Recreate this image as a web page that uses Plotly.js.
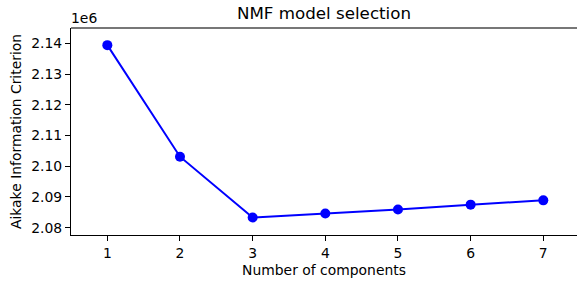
<!DOCTYPE html>
<html>
<head>
<meta charset="utf-8">
<script src="https://cdn.plot.ly/plotly-3.0.1.min.js"></script>
<style>html,body{margin:0;padding:0;background:#fff;}</style>
</head>
<body>
<div id="chart" style="width:578px;height:282px;"></div>
<script>
const components = [1, 2, 3, 4, 5, 6, 7];
const aicValues = [2139400, 2103100, 2083300, 2084600, 2085900, 2087500, 2088900];
const yTickVals = [2080000, 2090000, 2100000, 2110000, 2120000, 2130000, 2140000];
const yTickText = ['2.08', '2.09', '2.10', '2.11', '2.12', '2.13', '2.14'];
const xTickVals = [1, 2, 3, 4, 5, 6, 7];

const font = 'DejaVu Sans, sans-serif';
const trace = {
  x: components, y: aicValues, type: 'scatter', mode: 'lines+markers',
  line: {color: '#0000ff', width: 2},
  marker: {color: '#0000ff', size: 10}
};
const layout = {
  width: 578, height: 282,
  margin: {l: 71, r: 1, t: 28, b: 47},
  paper_bgcolor: '#fff', plot_bgcolor: '#fff',
  showlegend: false,
  font: {family: font, color: '#000', size: 13.9},
  title: {text: 'NMF model selection', font: {family: font, size: 16.7, color: '#000'},
          x: 0.5, xref: 'paper', y: 1 - 13/282, yref: 'container', yanchor: 'middle'},
  xaxis: {
    range: [0.5, 7.464], tickvals: xTickVals, ticktext: xTickVals.map(String),
    showgrid: false, zeroline: false, showline: true, linecolor: '#000', linewidth: 1,
    ticks: 'outside', ticklen: 5, tickwidth: 1, tickcolor: '#000',
    tickfont: {family: font, size: 13.9, color: '#000'},
    title: {text: 'Number of components', font: {family: font, size: 13.9, color: '#000'}, standoff: 5}
  },
  yaxis: {
    range: [2077620, 2144980], tickvals: yTickVals, ticktext: yTickText,
    showgrid: false, zeroline: false, showline: true, linecolor: '#000', linewidth: 1,
    ticks: 'outside', ticklen: 5, tickwidth: 1, tickcolor: '#000',
    tickfont: {family: font, size: 13.9, color: '#000'},
    title: {text: 'Aikake Information Criterion', font: {family: font, size: 13.9, color: '#000'}, standoff: 6}
  },
  shapes: [{type: 'line', xref: 'paper', yref: 'paper', x0: 0, x1: 1, y0: 1, y1: 1,
            line: {color: '#777', width: 2}}],
  annotations: [{text: '1e6', xref: 'paper', yref: 'paper', x: 0, y: 1, xanchor: 'left', yanchor: 'bottom',
                 showarrow: false, font: {family: font, size: 13.9, color: '#000'}, xshift: -2, yshift: 0}]
};
Plotly.newPlot('chart', [trace], layout, {displayModeBar: false, staticPlot: true});
</script>
</body>
</html>
